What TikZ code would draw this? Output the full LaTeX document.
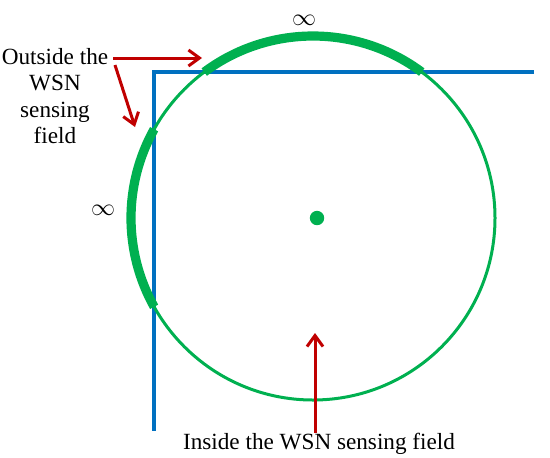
\documentclass[tikz,border=0pt]{standalone}
\usepackage{fontspec}
\setmainfont{Liberation Serif}
\usetikzlibrary{arrows.meta}
\definecolor{fieldblue}{HTML}{0070C0}
\definecolor{rangegreen}{HTML}{00B050}
\definecolor{pointred}{HTML}{C00000}
\begin{document}
\begin{tikzpicture}[x=0.5pt,y=0.5pt,
  fieldline/.style={draw=fieldblue,line width=1.6pt,line join=miter},
  rangeline/.style={draw=rangegreen,line width=1.5pt},
  outarc/.style={draw=rangegreen,line width=4.6pt,line cap=butt},
  pointer/.style={draw=pointred,line width=1.5pt,-{Straight Barb[length=5.5pt,width=8pt,line width=1.5pt]}},
  lbl/.style={inner sep=0pt,font=\fontsize{11.6}{13.2}\selectfont},
  infty/.style={inner sep=0pt,font=\fontsize{13}{14}\selectfont}]
\useasboundingbox (0,0) rectangle (550,457);
% sensing field border
\draw[fieldline] (534,385) -- (154,385) -- (154,26);
% communication range circle
\coordinate (c) at (313,239);
\draw[rangeline] (c) circle[radius=91pt];
\draw[outarc] (c) ++(53.3:91pt) arc[start angle=53.3,end angle=126.7,radius=91pt];
\draw[outarc] (c) ++(150.8:91pt) arc[start angle=150.8,end angle=209.2,radius=91pt];
\fill[rangegreen] (317,239) circle[radius=3.6pt];
% infinity labels
\node[infty] (inftop) at (304,437) {$\infty$};
\node[infty] (inftleft) at (103,247) {$\infty$};
% labels
\node[lbl,align=center,anchor=north] (outside) at (55,409) {Outside the\\WSN\\sensing\\field};
\node[lbl,anchor=base] (inside) at (319,8) {Inside the WSN sensing field};
% pointers
\coordinate (o1) at (113,399);
\coordinate (t1) at (202,399);
\coordinate (o2) at (115,392);
\coordinate (t2) at (135,330);
\coordinate (o3) at (315,24);
\coordinate (t3) at (315,124);
\draw[pointer] (o1) -- (t1);
\draw[pointer] (o2) -- (t2);
\draw[pointer] (o3) -- (t3);
\end{tikzpicture}
\end{document}
